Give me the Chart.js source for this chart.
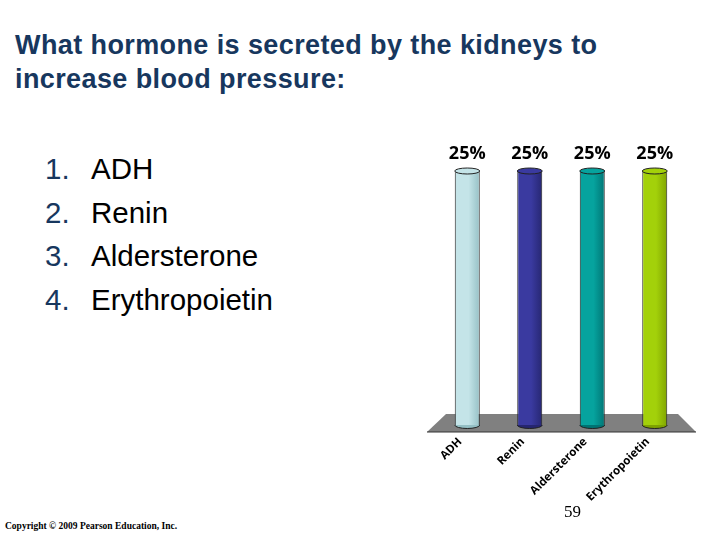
<!DOCTYPE html>
<html lang="en">
<head>
    <meta charset="UTF-8">
    <title>Kidney hormone poll</title>
    <script src="https://cdn.jsdelivr.net/npm/chart.js"></script>
    <style>
        body {
            margin: 0;
            width: 720px;
            height: 540px;
            background: #fff;
            position: relative;
            overflow: hidden;
            font-family: "Liberation Sans", Arial, sans-serif;
        }
        .title {
            position: absolute;
            left: 15px;
            top: 28px;
            font-size: 27px;
            letter-spacing: 0.4px;
            font-weight: bold;
            line-height: 34px;
            color: #17375E;
        }
        .answers {
            position: absolute;
            left: 45px;
            top: 147px;
            font-size: 29.5px;
            line-height: 43.5px;
        }
        .answers span { display: inline-block; width: 46px; color: #17375E; }
        .chart-box {
            position: absolute;
            left: 420px;
            top: 130px;
            width: 290px;
            height: 380px;
        }
        .page {
            position: absolute;
            left: 564px;
            top: 502px;
            font-family: "Liberation Serif", serif;
            font-size: 17px;
        }
        .copy {
            position: absolute;
            left: 5px;
            top: 521px;
            font-family: "Liberation Serif", serif;
            font-size: 9.5px;
            font-weight: bold;
        }
    </style>
</head>
<body>
    <div class="title">What hormone is secreted by the kidneys to<br>increase blood pressure:</div>
    <div class="answers">
        <div><span>1.</span>ADH</div>
        <div><span>2.</span>Renin</div>
        <div><span>3.</span>Aldersterone</div>
        <div><span>4.</span>Erythropoietin</div>
    </div>
    <div class="chart-box"><canvas id="poll"></canvas></div>
    <div class="page">59</div>
    <div class="copy">Copyright © 2009 Pearson Education, Inc.</div>

    <script>
        const answers = ['ADH', 'Renin', 'Aldersterone', 'Erythropoietin'];
        const shares = [25, 25, 25, 25];
        const light = ['#C4E4E8', '#3A3AA0', '#06A39E', '#A3D10A'];
        const dark = ['#94BFC4', '#262670', '#007373', '#7FA300'];

        function cylinderFill(context) {
            const chart = context.chart;
            const area = chart.chartArea;
            if (!area) return light[context.dataIndex];
            const i = context.dataIndex;
            const x = chart.scales.x.getPixelForValue(i);
            const g = chart.ctx.createLinearGradient(x - 13, 0, x + 13, 0);
            g.addColorStop(0, light[i]);
            g.addColorStop(0.55, light[i]);
            g.addColorStop(1, dark[i]);
            return g;
        }

        // grey floor under the bars, caps on the cylinders, percent labels
        const decor = {
            id: 'decor',
            beforeDatasetsDraw(chart) {
                const c = chart.ctx, a = chart.chartArea;
                c.save();
                c.fillStyle = '#808080';
                c.beginPath();
                c.moveTo(a.left + 10, a.bottom - 11);
                c.lineTo(a.right - 8, a.bottom - 11);
                c.lineTo(a.right + 10, a.bottom + 7);
                c.lineTo(a.left - 9, a.bottom + 7);
                c.closePath();
                c.fill();
                c.strokeStyle = '#333';
                c.lineWidth = 1;
                c.beginPath();
                c.moveTo(a.left - 9, a.bottom + 7);
                c.lineTo(a.right + 10, a.bottom + 7);
                c.stroke();
                c.restore();
            },
            afterDatasetsDraw(chart) {
                const c = chart.ctx;
                const meta = chart.getDatasetMeta(0);
                c.save();
                meta.data.forEach((bar, i) => {
                    const w = bar.width / 2;
                    c.strokeStyle = '#222';
                    c.lineWidth = 1;
                    // bottom rounding
                    c.fillStyle = dark[i];
                    c.beginPath();
                    c.ellipse(bar.x, bar.base, w, 3.5, 0, 0, Math.PI);
                    c.fill();
                    c.stroke();
                    // top cap
                    c.fillStyle = light[i];
                    c.beginPath();
                    c.ellipse(bar.x, bar.y, w, 3, 0, 0, Math.PI * 2);
                    c.fill();
                    c.stroke();
                    c.fillStyle = '#000';
                    c.font = 'bold 18px "Open Sans", "DejaVu Sans", sans-serif';
                    c.textAlign = 'center';
                    c.textBaseline = 'alphabetic';
                    c.fillText(shares[i] + '%', bar.x, chart.chartArea.top - 12);
                });
                c.restore();
            }
        };

        new Chart(document.getElementById('poll'), {
            type: 'bar',
            data: {
                labels: answers,
                datasets: [{
                    data: shares,
                    backgroundColor: cylinderFill,
                    borderColor: '#222',
                    borderWidth: { left: 1, right: 1, top: 0, bottom: 0 },
                    barPercentage: 0.4,
                    categoryPercentage: 1
                }]
            },
            options: {
                responsive: true,
                maintainAspectRatio: false,
                animation: false,
                layout: { padding: { top: 41, left: 16, right: 24, bottom: 0 } },
                scales: {
                    y: { display: false, min: 0, max: 25 },
                    x: {
                        grid: { display: false, drawTicks: false },
                        border: { display: false },
                        afterFit(scale) { scale.height = 85; },
                        ticks: {
                            minRotation: 45,
                            maxRotation: 45,
                            padding: 10,
                            labelOffset: -7,
                            color: '#000',
                            font: { family: '"Open Sans", "DejaVu Sans", sans-serif', size: 11.5, weight: 'bold' }
                        }
                    }
                },
                plugins: {
                    legend: { display: false },
                    tooltip: { enabled: false }
                }
            },
            plugins: [decor]
        });
    </script>
</body>
</html>
